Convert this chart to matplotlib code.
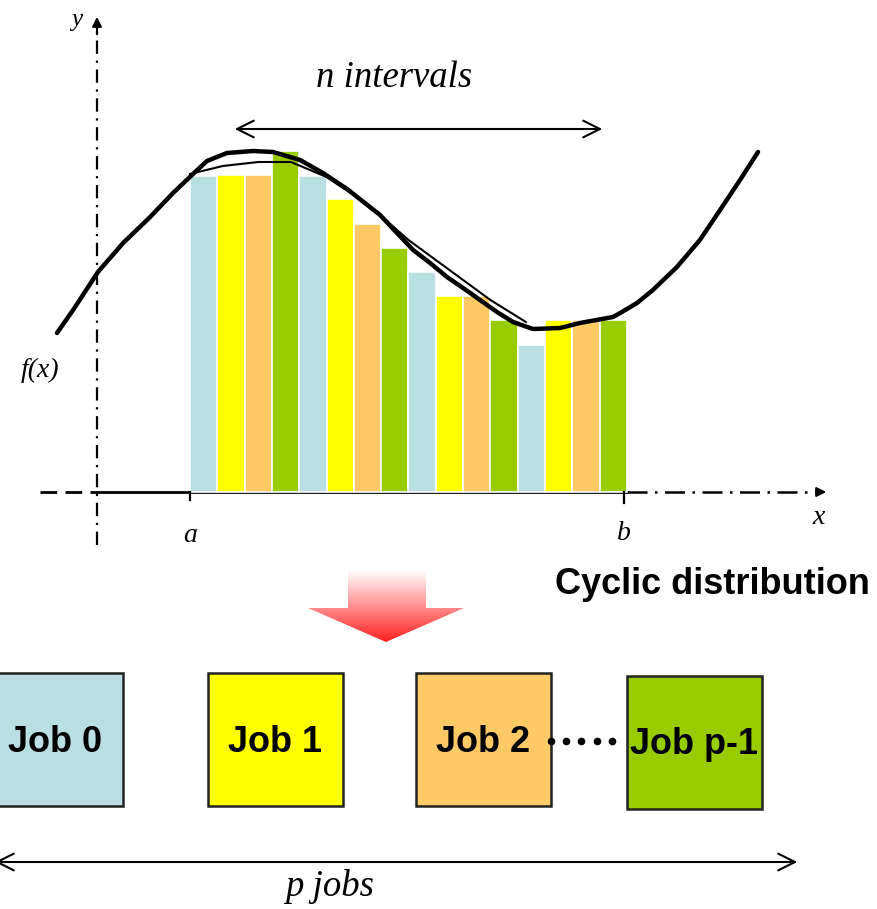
import matplotlib
matplotlib.use('Agg')
import matplotlib.pyplot as plt
import numpy as np
from matplotlib.patches import Polygon, Rectangle
from matplotlib.colors import LinearSegmentedColormap

# bar heights over the n intervals (one bar per interval, a=0 .. b=16)
heights = [3.16, 3.17, 3.17, 3.41, 3.16, 2.93, 2.68, 2.44,
           2.20, 1.96, 1.96, 1.72, 1.47, 1.72, 1.72, 1.72]
job_colors = ['#BADFE2', '#FFFF00', '#FFCA66', '#99CC00']
job_labels = ['Job 0', 'Job 1', 'Job 2', 'Job p-1']

# f(x)
curve_x = [-4.87, -4.28, -3.37, -2.45, -1.46, -0.62, 0.11, 0.62, 1.35, 2.31,
           3.04, 4.03, 4.87, 5.75, 6.96, 7.58, 8.17, 8.79, 9.41, 10.00,
           10.62, 11.24, 11.83, 12.56, 13.55, 14.28, 15.49, 15.75, 16.37,
           16.95, 17.83, 18.67, 19.41, 20.14, 20.80]
curve_y = [1.59, 1.82, 2.20, 2.49, 2.75, 2.99, 3.18, 3.31, 3.39, 3.41,
           3.40, 3.32, 3.19, 3.03, 2.77, 2.59, 2.42, 2.29, 2.15, 2.04,
           1.92, 1.80, 1.70, 1.63, 1.64, 1.69, 1.75, 1.79, 1.89,
           2.02, 2.25, 2.52, 2.82, 3.12, 3.40]
# inner (approximating) curve
inner_x = [0, 1.2, 2.5, 3.7, 5.0, 6.5, 8.0, 9.5, 11.0, 12.3]
inner_y = [3.18, 3.26, 3.30, 3.30, 3.15, 2.88, 2.52, 2.22, 1.92, 1.70]

W, H = 878, 909
fig = plt.figure(figsize=(W / 100, H / 100), dpi=100)

# graph axes: 1 x-unit = 27.31 px, 1 y-unit = 100 px, origin at (190, 492) px
ux, uy, x0, y0 = 27.31, 100.0, 190, 492
ax = fig.add_axes([0, 0, 1, 1])
ax.set_xlim(-x0 / ux, (W - x0) / ux)
ax.set_ylim(-(H - y0) / uy, y0 / uy)
ax.axis('off')

n = len(heights)
xs = np.arange(n) + 0.5
cols = [job_colors[i % len(job_colors)] for i in range(n)]
ax.bar(xs, heights, width=1.0, color=cols, edgecolor='white', linewidth=1.2, zorder=2)

ax.plot(curve_x, curve_y, color='black', lw=3.2, solid_capstyle='round',
        solid_joinstyle='round', zorder=3)
ax.plot(inner_x, inner_y, color='black', lw=1.5, zorder=3)

# axes of the sketch
ya = (97 - x0) / ux
ax.plot([ya, ya], [-0.53, 4.65], color='black', lw=1.6, ls=(0, (6, 3, 1, 3)), zorder=1)
ax.annotate('', xy=(ya, 4.78), xytext=(ya, 4.55),
            arrowprops=dict(arrowstyle='-|>', color='black', lw=1.5, mutation_scale=14))
ax.plot([(40 - x0) / ux, ya], [0, 0], color='black', lw=2, ls=(0, (6, 3)), zorder=1)
ax.plot([ya, n], [0, 0], color='black', lw=2, zorder=1)
ax.plot([n, 23.0], [0, 0], color='black', lw=1.8, ls=(0, (8, 3, 1, 3)), zorder=1)
ax.annotate('', xy=(23.4, 0), xytext=(23.0, 0),
            arrowprops=dict(arrowstyle='-|>', color='black', lw=1.5, mutation_scale=14))
ax.plot([0, 0], [0, -0.08], color='black', lw=1.6)
ax.plot([n - 0.1, n - 0.1], [0, -0.11], color='black', lw=1.6)

serif = dict(family='Liberation Serif', style='italic')
ax.text(ya - 0.75, 4.72, 'y', fontsize=18, ha='center', va='center', **serif)
ax.text(23.0, -0.25, 'x', fontsize=20, ha='center', va='center', **serif)
ax.text(0, -0.44, 'a', fontsize=20, ha='center', va='center', **serif)
ax.text(n - 0.1, -0.42, 'b', fontsize=20, ha='center', va='center', **serif)
ax.text(-6.2, 1.22, 'f(x)', fontsize=20, ha='left', va='center', **serif)

# layout overlay in pixel units
lay = fig.add_axes([0, 0, 1, 1], facecolor='none')
lay.set_xlim(0, W)
lay.set_ylim(H, 0)
lay.axis('off')

lay.annotate('', xy=(232, 129), xytext=(605, 129),
             arrowprops=dict(arrowstyle='<->', color='black', lw=1.5, mutation_scale=30))
lay.text(394, 78, 'n intervals', fontsize=26.5, ha='center', va='center', **serif)

sans = dict(family='Liberation Sans', weight='bold')
lay.text(712, 584, 'Cyclic distribution', fontsize=26, ha='center', va='center', **sans)

# red gradient arrow
arrow = Polygon([(348, 570), (426, 570), (426, 608), (464, 608), (386, 642),
                 (308, 608), (348, 608)], closed=True, facecolor='none', edgecolor='none')
lay.add_patch(arrow)
grad = np.linspace(0, 1, 256).reshape(-1, 1)
cmap = LinearSegmentedColormap.from_list('wr', ['#FFFFFF', '#FF9090', '#FF2020'])
im = lay.imshow(grad, cmap=cmap, extent=[300, 470, 642, 570], aspect='auto', zorder=2)
im.set_clip_path(arrow)
lay.set_xlim(0, W)
lay.set_ylim(H, 0)

# job boxes
boxes = [(-12, 673), (208, 673), (416, 673), (627, 676)]
for (bx, by), c, lab in zip(boxes, job_colors, job_labels):
    lay.add_patch(Rectangle((bx, by), 135, 133, facecolor=c, edgecolor='#222222', lw=1.8))
    lay.text(bx + 67, by + 69, lab, fontsize=26, ha='center', va='center', **sans)
lay.plot(np.linspace(551, 612, 5), [741] * 5, 'o', color='black', ms=4.5)

lay.annotate('', xy=(-8, 862), xytext=(800, 862), annotation_clip=False,
             arrowprops=dict(arrowstyle='<->', color='black', lw=1.5, mutation_scale=30))
lay.text(330, 887, 'p jobs', fontsize=26.5, ha='center', va='center', **serif)

fig.savefig('out.png', dpi=100)
